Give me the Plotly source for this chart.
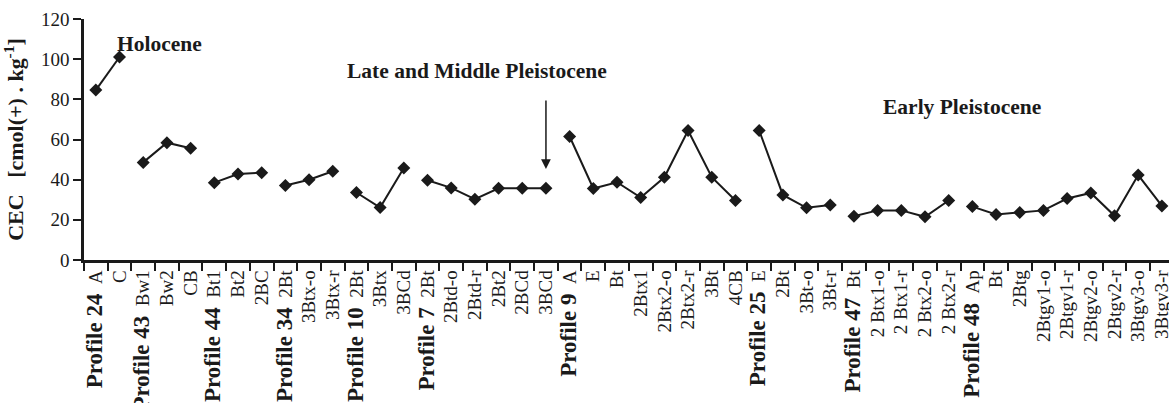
import plotly.graph_objects as go

# ---- data ----
profiles = ["Profile 24", "Profile 43", "Profile 44", "Profile 34", "Profile 10",
            "Profile 7", "Profile 9", "Profile 25", "Profile 47", "Profile 48"]

horizons = [
    ["A", "C"],
    ["Bw1", "Bw2", "CB"],
    ["Bt1", "Bt2", "2BC"],
    ["2Bt", "3Btx-o", "3Btx-r"],
    ["2Bt", "3Btx", "3BCd"],
    ["2Bt", "2Btd-o", "2Btd-r", "2Bt2", "2BCd", "3BCd"],
    ["A", "E", "Bt", "2Btx1", "2Btx2-o", "2Btx2-r", "3Bt", "4CB"],
    ["E", "2Bt", "3Bt-o", "3Bt-r"],
    ["Bt", "2 Btx1-o", "2 Btx1-r", "2 Btx2-o", "2 Btx2-r"],
    ["Ap", "Bt", "2Btg", "2Btgv1-o", "2Btgv1-r", "2Btgv2-o", "2Btgv2-r", "3Btgv3-o", "3Btgv3-r"],
]

cec = [
    [84.6, 101.1],
    [48.6, 58.4, 55.6],
    [38.5, 42.8, 43.5],
    [37.1, 40.0, 44.2],
    [33.6, 26.1, 45.8],
    [39.7, 35.9, 30.3, 35.7, 35.7, 35.7],
    [61.5, 35.6, 38.7, 31.1, 41.2, 64.5, 41.2, 29.6],
    [64.5, 32.4, 26.0, 27.4],
    [21.8, 24.7, 24.7, 21.5, 29.6],
    [26.6, 22.7, 23.7, 24.7, 30.6, 33.4, 22.0, 42.3, 26.9],
]

y_ticks = [0, 20, 40, 60, 80, 100, 120]

# ---- build ----
FONT = "Liberation Serif, Times New Roman, serif"
INK = "#1a1a1a"
fig = go.Figure()

tickvals, ticktext = [], []
pos = 0
for prof, hors, vals in zip(profiles, horizons, cec):
    xs = list(range(pos, pos + len(hors)))
    fig.add_trace(go.Scatter(
        x=xs, y=vals, mode="lines+markers",
        line=dict(color=INK, width=2),
        marker=dict(symbol="diamond", size=10, color=INK),
        showlegend=False, hoverinfo="x+y", cliponaxis=False,
    ))
    for i, h in enumerate(hors):
        tickvals.append(pos + i)
        if i == 0:
            ticktext.append(f'<span style="font-size:23px"><b>{prof}</b></span>\u00a0\u00a0{h}')
        else:
            ticktext.append(h)
    pos += len(hors)

n = pos

fig.update_layout(
    width=1169, height=403,
    margin=dict(l=84, r=0, t=19, b=143),
    paper_bgcolor="white", plot_bgcolor="white",
    font=dict(family=FONT, color=INK, size=19),
)

fig.update_xaxes(
    range=[-0.5, n - 0.7],
    tickmode="array", tickvals=tickvals, ticktext=ticktext,
    tickangle=-90, tickfont=dict(size=19, family=FONT, color=INK),
    ticklabeloverflow="allow",
    ticks="outside", ticklen=0, tickwidth=0.01, tickcolor="white",
    minor=dict(tickmode="array", tickvals=[v - 0.5 for v in range(n + 1)],
               ticks="outside", ticklen=8, tickwidth=2, tickcolor=INK, showgrid=False),
    showline=True, linecolor=INK, linewidth=2.5,
    showgrid=False, zeroline=False, automargin=False,
)

fig.update_yaxes(
    range=[0, 120], tickmode="array", tickvals=y_ticks,
    ticks="outside", ticklen=8, tickwidth=2, tickcolor=INK,
    tickfont=dict(size=19, family=FONT, color=INK),
    showline=True, linecolor=INK, linewidth=2.5,
    showgrid=False, zeroline=False, automargin=False,
    title=dict(text="<b>CEC\u00a0\u00a0\u00a0[cmol(+)\u00a0.\u00a0kg<sup>-1</sup>]</b>",
               font=dict(size=22, family=FONT, color=INK), standoff=14),
)

# annotations
ann_font = dict(size=21.5, family=FONT, color=INK)
fig.add_annotation(x=2.69, y=107.5, xref="x", yref="y", text="<b>Holocene</b>",
                   showarrow=False, font=ann_font)
fig.add_annotation(x=16.09, y=94.1, xref="x", yref="y", text="<b>Late and Middle Pleistocene</b>",
                   showarrow=False, font=ann_font)
fig.add_annotation(x=36.58, y=76.4, xref="x", yref="y", text="<b>Early Pleistocene</b>",
                   showarrow=False, font=ann_font)
fig.add_annotation(x=19, y=45.3, ax=19, ay=80.2, xref="x", yref="y", axref="x", ayref="y",
                   text="", showarrow=True, arrowhead=2, arrowsize=1.3, arrowwidth=1.5,
                   arrowcolor=INK)

fig.write_html("out.html",
               config={"displayModeBar": False},
               post_script="document.body.style.margin='0';document.body.style.overflow='hidden';")
